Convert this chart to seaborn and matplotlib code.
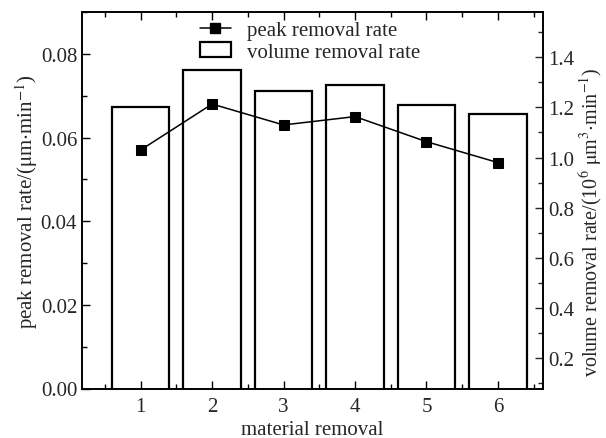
import matplotlib
matplotlib.use("Agg")
import matplotlib.pyplot as plt
from matplotlib.ticker import MultipleLocator, FormatStrFormatter
from matplotlib.patches import Patch
from matplotlib.lines import Line2D
import seaborn as sns
import pandas as pd

# data
removal = [1, 2, 3, 4, 5, 6]
peak_rate = [0.057, 0.068, 0.063, 0.065, 0.059, 0.054]          # um/min
volume_rate = [1.200, 1.349, 1.267, 1.290, 1.208, 1.173]        # 1e6 um^3/min
legend_labels = ["peak removal rate", "volume removal rate"]

df = pd.DataFrame({"removal": removal, "peak": peak_rate, "volume": volume_rate})

sns.set_theme(style="ticks")
plt.rcParams["font.family"] = ["Liberation Serif", "DejaVu Serif"]
plt.rcParams["mathtext.fontset"] = "stix"

fig = plt.figure(figsize=(6.06, 4.39), dpi=100)
ax = fig.add_axes([82 / 606, 1 - 389.5 / 439, (543 - 82) / 606, (389.5 - 13) / 439])
ax2 = ax.twinx()

sns.barplot(data=df, x="removal", y="volume", native_scale=True, ax=ax2,
            color="white", edgecolor="black", linewidth=1.6, width=0.8,
            errorbar=None, zorder=1)
sns.lineplot(data=df, x="removal", y="peak", ax=ax, color="black",
             marker="s", markersize=7, linewidth=1.1, markeredgecolor="black",
             zorder=5)

ax.set_zorder(ax2.get_zorder() + 1)
ax.patch.set_visible(False)

ax.set_xlim(0.18, 6.63)
ax.set_ylim(0, 0.09)
ax2.set_ylim(0.08, 1.58)

ax.xaxis.set_major_locator(MultipleLocator(1))
ax.xaxis.set_minor_locator(MultipleLocator(0.5))
ax.yaxis.set_major_locator(MultipleLocator(0.02))
ax.yaxis.set_minor_locator(MultipleLocator(0.01))
ax2.yaxis.set_major_locator(MultipleLocator(0.2))
ax2.yaxis.set_minor_locator(MultipleLocator(0.1))

ax.yaxis.set_major_formatter(FormatStrFormatter("%.2f"))
ax2.yaxis.set_major_formatter(FormatStrFormatter("%.1f"))

fs = 15
ax.tick_params(axis="both", which="both", direction="in", top=True, labelsize=fs,
               width=1, color="black")
ax.tick_params(axis="both", which="major", length=6)
ax.tick_params(axis="both", which="minor", length=3.5)
ax.tick_params(axis="y", which="both", right=False)
ax2.tick_params(axis="y", which="both", direction="in", labelsize=fs, width=1)
ax2.tick_params(axis="y", which="major", length=6)
ax2.tick_params(axis="y", which="minor", length=3.5)
ax.tick_params(axis="x", pad=6)

for a in (ax, ax2):
    for s in a.spines.values():
        s.set_color("black")
        s.set_linewidth(1.2)

ax.set_xlabel("material removal", fontsize=fs, labelpad=3)
ax.set_ylabel(r"peak removal rate/($\mathrm{\mu}$m$\cdot$min$^{-1}$)", fontsize=fs)
ax2.set_ylabel(r"volume removal rate/(10$^{6}$ $\mathrm{\mu}$m$^{3}$$\cdot$min$^{-1}$)",
               fontsize=14.5)
ax.yaxis.set_label_coords(-0.092, 0.5)
ax2.yaxis.set_label_coords(1.075, 0.445)

handles = [Line2D([], [], color="black", marker="s", markersize=6.5, linewidth=1.1),
           Patch(facecolor="white", edgecolor="black", linewidth=1.6)]
ax.legend(handles, legend_labels, loc="upper left",
          bbox_to_anchor=(0.2285, 1.01), frameon=False, fontsize=fs,
          handlelength=1.5, handletextpad=0.75, labelspacing=0.1, borderaxespad=0.2)

fig.savefig("out.png", dpi=100)
